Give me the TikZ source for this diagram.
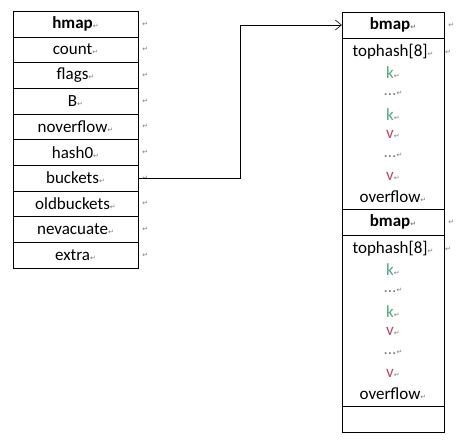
\documentclass[tikz,border=0pt]{standalone}
\usepackage{fontspec}
\setmainfont{Carlito}
\newfontfamily\markfont{DejaVu Sans}
\usepackage{tikz}
\usetikzlibrary{positioning,arrows.meta}

\definecolor{kgreen}{RGB}{80,170,130}
\definecolor{vred}{RGB}{190,70,100}
\newcommand{\pmark}{{\markfont\color{gray}\fontsize{7}{7}\selectfont ↵}}

\tikzset{
	hrow/.style={draw, rectangle, minimum width=125pt, minimum height=25.7pt, inner sep=0pt, font=\fontsize{17}{18}\selectfont},
	bhead/.style={draw, rectangle, minimum width=102pt, minimum height=26pt, inner sep=0pt, font=\fontsize{17}{18}\selectfont\bfseries},
	bbody/.style={draw, rectangle, minimum width=102pt, minimum height=171pt, inner sep=0pt},
	bline/.style={inner sep=0pt, font=\fontsize{17}{18}\selectfont},
	rmark/.style={inner sep=0pt}
}

\begin{document}
\begin{tikzpicture}[x=1pt,y=-1pt]
				\useasboundingbox (0,0) rectangle (458,442);
				% hmap
				\node[hrow] (hmap) at (75.5, 23.85) {\textbf{hmap}\pmark};
				\node[hrow] (count) at (75.5, 49.55) {count\pmark};
				\node[hrow] (flags) at (75.5, 75.25) {flags\pmark};
				\node[hrow] (B) at (75.5, 100.95) {B\pmark};
				\node[hrow] (noverflow) at (75.5, 126.65) {noverflow\pmark};
				\node[hrow] (hash0) at (75.5, 152.35) {hash0\pmark};
				\node[hrow] (buckets) at (75.5, 178.05) {buckets\pmark};
				\node[hrow] (oldbuckets) at (75.5, 203.75) {oldbuckets\pmark};
				\node[hrow] (nevacuate) at (75.5, 229.45) {nevacuate\pmark};
				\node[hrow] (extra) at (75.5, 255.15) {extra\pmark};
				\foreach \n in {hmap,count,flags,B,noverflow,hash0,buckets,oldbuckets,nevacuate,extra}
					\node[rmark, right=4pt of \n.east] {\pmark};
				% first bmap
				\node[bhead] (bmapa) at (393, 25) {bmap\pmark};
				\node[bbody] (bodya) at (393, 123.5) {};
				\node[bline] (tophasha) at (393, 52) {tophash[8]\pmark};
				\node[bline] (ka) at (393, 72.7) {\color{kgreen}k\pmark};
				\node[bline] (dka) at (393, 93.4) {\color{gray}...\pmark};
				\node[bline] (kb) at (393, 114.1) {\color{kgreen}k\pmark};
				\node[bline] (va) at (393, 134.8) {\color{vred}v\pmark};
				\node[bline] (dva) at (393, 155.5) {\color{gray}...\pmark};
				\node[bline] (vb) at (393, 176.2) {\color{vred}v\pmark};
				\node[bline] (overflowa) at (393, 196.9) {overflow\pmark};
				% second bmap
				\node[bhead] (bmapb) at (393, 222) {bmap\pmark};
				\node[bbody] (bodyb) at (393, 320.5) {};
				\node[bline] (tophashb) at (393, 249) {tophash[8]\pmark};
				\node[bline] (kc) at (393, 269.7) {\color{kgreen}k\pmark};
				\node[bline] (dkb) at (393, 290.4) {\color{gray}...\pmark};
				\node[bline] (kd) at (393, 311.1) {\color{kgreen}k\pmark};
				\node[bline] (vc) at (393, 331.8) {\color{vred}v\pmark};
				\node[bline] (dvb) at (393, 352.5) {\color{gray}...\pmark};
				\node[bline] (vd) at (393, 373.2) {\color{vred}v\pmark};
				\node[bline] (overflowb) at (393, 393.9) {overflow\pmark};
				\node[bhead] (bmapc) at (393, 419) {};
				\foreach \n in {bmapa,bmapb}
					\node[rmark, right=4pt of \n.east] {\pmark};
				\node[rmark] at (448, 52) {\pmark};
				\node[rmark] at (448, 249) {\pmark};
				% buckets pointer
				\draw[-{Straight Barb[length=6pt,width=10pt]}, semithick] (buckets.east) -- (240, 178.05) |- (bmapa.west);
				\end{tikzpicture}
\end{document}
